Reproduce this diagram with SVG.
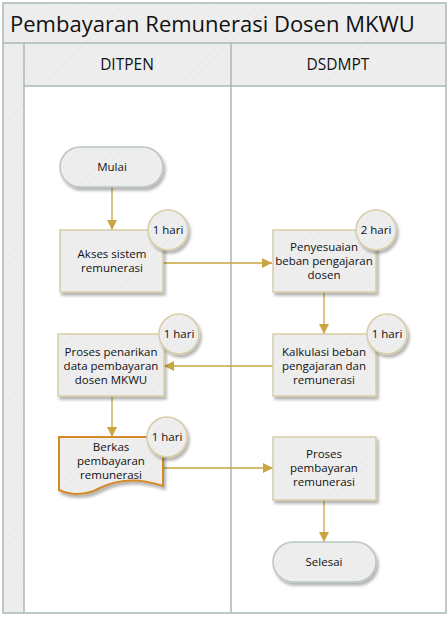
<svg xmlns="http://www.w3.org/2000/svg" width="448" height="617" viewBox="0 0 448 617">
<defs>
<pattern id="hatch" width="6" height="6" patternUnits="userSpaceOnUse" patternTransform="rotate(45)">
<rect width="6" height="6" fill="#eeeeee"/>
<line x1="0" y1="0" x2="0" y2="6" stroke="#e6e6e6" stroke-width="1.2"/>
</pattern>
<filter id="sh" x="-20%" y="-20%" width="150%" height="150%">
<feGaussianBlur in="SourceAlpha" stdDeviation="1.5"/>
<feOffset dx="2" dy="3" result="b"/>
<feComponentTransfer><feFuncA type="linear" slope="0.3"/></feComponentTransfer>
<feMerge><feMergeNode/><feMergeNode in="SourceGraphic"/></feMerge>
</filter>
<marker id="arr" viewBox="0 0 10 10" refX="10" refY="5" markerWidth="10" markerHeight="10" markerUnits="userSpaceOnUse" orient="auto">
<path d="M0,0 L10,5 L0,10 Z" fill="#c9a640"/>
</marker>
</defs>
<style>
.frame{fill:none;stroke:#a9bab2;stroke-width:1.5}
.hdr{fill:url(#hatch)}
.t{font-family:"Open Sans","Noto Sans","DejaVu Sans",sans-serif;fill:#111;text-anchor:middle}
.nt{font-size:11.5px}
.proc{fill:url(#hatch);stroke:#d8cda6;stroke-width:1.5;filter:url(#sh)}
.term{fill:url(#hatch);stroke:#b9c6bf;stroke-width:1.5;filter:url(#sh)}
.doc{fill:url(#hatch);stroke:#d38b2c;stroke-width:2;filter:url(#sh)}
.badge{fill:url(#hatch);stroke:#d8cda6;stroke-width:1.5;filter:url(#sh)}
.c{fill:none;stroke:#c9a640;stroke-width:1.3;marker-end:url(#arr)}
</style>
<rect x="3" y="3" width="443" height="610" fill="#ffffff"/>
<rect x="3" y="3" width="443" height="40" class="hdr"/>
<rect x="3" y="43" width="21" height="570" class="hdr"/>
<rect x="24" y="43" width="422" height="43" class="hdr"/>
<g id="frame">
<rect x="3" y="3" width="443" height="610" class="frame"/>
<line x1="3" y1="43" x2="446" y2="43" class="frame"/>
<line x1="24" y1="86" x2="446" y2="86" class="frame"/>
<line x1="24" y1="43" x2="24" y2="613" class="frame"/>
<line x1="231" y1="43" x2="231" y2="613" class="frame"/>
</g>
<text x="10" y="32" font-family="'Open Sans','Noto Sans',sans-serif" font-size="22" fill="#111">Pembayaran Remunerasi Dosen MKWU</text>
<text x="127" y="70" class="t" font-size="15.5">DITPEN</text>
<text x="338" y="70" class="t" font-size="15.5">DSDMPT</text>
<g id="connectors">
<path d="M112,187 V230" class="c"/>
<path d="M163,263 H272" class="c"/>
<path d="M324,292 V334" class="c"/>
<path d="M273,366 H164" class="c"/>
<path d="M112,396 V437" class="c"/>
<path d="M163,468 H273" class="c"/>
<path d="M324,500 V542" class="c"/>
</g>
<g id="mulai">
<rect x="60" y="147" width="103" height="40" rx="20" class="term"/>
<text x="112" y="171" class="t nt">Mulai</text>
</g>
<g id="akses">
<rect x="60" y="230" width="103" height="62" class="proc"/>
<text x="112" y="258" class="t nt">Akses sistem</text>
<text x="112" y="272" class="t nt">remunerasi</text>
<circle cx="168" cy="230" r="20" class="badge"/>
<text x="168" y="234" class="t nt">1 hari</text>
</g>
<g id="penyesuaian">
<rect x="273" y="230" width="103" height="62" class="proc"/>
<text x="324" y="251" class="t nt">Penyesuaian</text>
<text x="324" y="265" class="t nt">beban pengajaran</text>
<text x="324" y="279" class="t nt">dosen</text>
<circle cx="376" cy="230" r="20" class="badge"/>
<text x="376" y="234" class="t nt">2 hari</text>
</g>
<g id="kalkulasi">
<rect x="273" y="334" width="103" height="62" class="proc"/>
<text x="324" y="356" class="t nt">Kalkulasi beban</text>
<text x="324" y="370" class="t nt">pengajaran dan</text>
<text x="324" y="384" class="t nt">remunerasi</text>
<circle cx="387" cy="334" r="20" class="badge"/>
<text x="387" y="338" class="t nt">1 hari</text>
</g>
<g id="penarikan">
<rect x="58" y="334" width="106" height="62" class="proc"/>
<text x="111" y="356" class="t nt">Proses penarikan</text>
<text x="111" y="370" class="t nt">data pembayaran</text>
<text x="111" y="384" class="t nt">dosen MKWU</text>
<circle cx="179" cy="334" r="20" class="badge"/>
<text x="179" y="338" class="t nt">1 hari</text>
</g>
<g id="berkas">
<path d="M59,437 H163 V486 C140,478 120,478 100,488 C85,496 70,495 59,490 Z" class="doc"/>
<text x="111" y="451" class="t nt">Berkas</text>
<text x="111" y="465" class="t nt">pembayaran</text>
<text x="111" y="479" class="t nt">remunerasi</text>
<circle cx="167" cy="437" r="20" class="badge"/>
<text x="167" y="441" class="t nt">1 hari</text>
</g>
<g id="pembayaran">
<rect x="273" y="437" width="103" height="63" class="proc"/>
<text x="324" y="458" class="t nt">Proses</text>
<text x="324" y="472" class="t nt">pembayaran</text>
<text x="324" y="486" class="t nt">remunerasi</text>
</g>
<g id="selesai">
<rect x="273" y="542" width="103" height="40" rx="20" class="term"/>
<text x="324" y="566" class="t nt">Selesai</text>
</g>
</svg>
